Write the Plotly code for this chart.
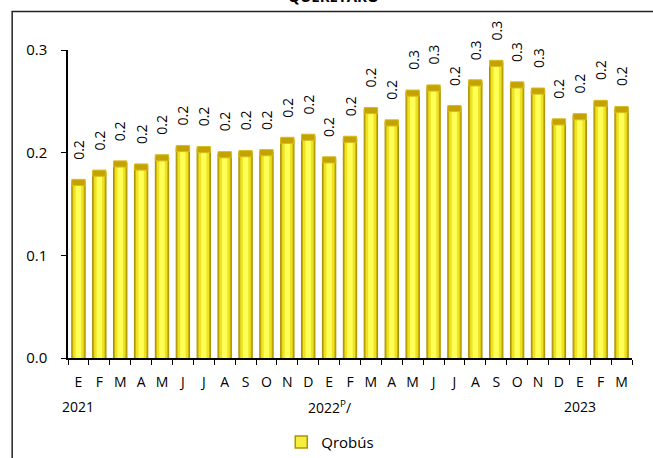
import plotly.graph_objects as go

months = ["E", "F", "M", "A", "M", "J", "J", "A", "S", "O", "N", "D",
          "E", "F", "M", "A", "M", "J", "J", "A", "S", "O", "N", "D",
          "E", "F", "M"]
values = [0.172, 0.181, 0.190, 0.187, 0.196, 0.205, 0.204, 0.199, 0.200, 0.201, 0.213, 0.216,
          0.194, 0.214, 0.242, 0.230, 0.259, 0.264, 0.244, 0.269, 0.288, 0.267, 0.261, 0.231,
          0.236, 0.249, 0.243]
year_labels = ["2021", "2022<sup>P</sup>/", "2023"]
year_pos = [0, 12, 24]
series_name = "Qrobús"

x = list(range(len(values)))
font = "Open Sans"

fig = go.Figure()
# base bar (dark gold edge)
fig.add_trace(go.Bar(x=x, y=values, width=0.64, name=series_name,
                     marker=dict(color="#C9B000", line=dict(color="#A88F00", width=1)),
                     showlegend=False))
# body
fig.add_trace(go.Bar(x=x, y=values, width=0.5, marker=dict(color="#EDE224", line_width=0),
                     showlegend=False, hoverinfo="skip"))
# highlight
fig.add_trace(go.Bar(x=x, y=values, width=0.26, marker=dict(color="#FFFF55", line_width=0),
                     showlegend=False, hoverinfo="skip"))
# top cap
fig.add_trace(go.Bar(x=x, y=[0.006] * len(values), base=[v - 0.004 for v in values], width=0.64,
                     marker=dict(color="#C4A200", line=dict(color="#D8BC20", width=1)),
                     showlegend=False, hoverinfo="skip"))
# legend entry
fig.add_trace(go.Bar(x=[None], y=[None], name=series_name,
                     marker=dict(color="#F4EE3C", line=dict(color="#B09400", width=1.5))))

for i, v in zip(x, values):
    fig.add_annotation(x=i, y=v, text=f"{v:.1f}", textangle=-90, showarrow=False,
                       yanchor="bottom", yshift=20, font=dict(size=14, color="black", family=font))

for p, t in zip(year_pos, year_labels):
    fig.add_annotation(x=p, y=0, yref="paper", yanchor="top", yshift=-37, text=t,
                       showarrow=False, font=dict(size=14, color="black", family=font))

fig.add_annotation(x=0.47, y=1.135, xref="paper", yref="paper", yanchor="bottom",
                   text="<b>QUERÉTARO</b>", showarrow=False,
                   font=dict(size=15, color="black", family=font))

# outer frame
fig.add_shape(type="rect", xref="paper", yref="paper", x0=-0.099, y0=-0.45, x1=1.1, y1=1.125,
              line=dict(color="#222222", width=1.5), fillcolor="rgba(0,0,0,0)", layer="below")

fig.update_layout(
    width=653, height=458,
    margin=dict(l=68, r=21, t=50, b=100, autoexpand=False),
    barmode="overlay",
    plot_bgcolor="white", paper_bgcolor="white",
    font=dict(family=font, size=14, color="black"),
    legend=dict(orientation="h", x=0.465, xanchor="center", y=-0.22, yanchor="top",
                font=dict(size=15, family=font)),
    xaxis=dict(range=[-0.5, len(values) - 0.5], tickvals=x, ticktext=months, ticks="",
               showline=True, linecolor="black", linewidth=1.5, showgrid=False, zeroline=False,
               ticklabelstandoff=10,
               minor=dict(tick0=-0.5, dtick=1, ticks="outside", ticklen=5, tickcolor="black")),
    yaxis=dict(range=[0, 0.3], dtick=0.1, tickformat=".1f", ticks="outside", ticklen=5,
               tickcolor="black", showline=True, linecolor="black", linewidth=1.5,
               showgrid=False, zeroline=False, ticklabelstandoff=11, tickfont=dict(size=15)),
)

fig.write_html("out.html", config={"displayModeBar": False},
               post_script="document.body.style.margin='0';")
